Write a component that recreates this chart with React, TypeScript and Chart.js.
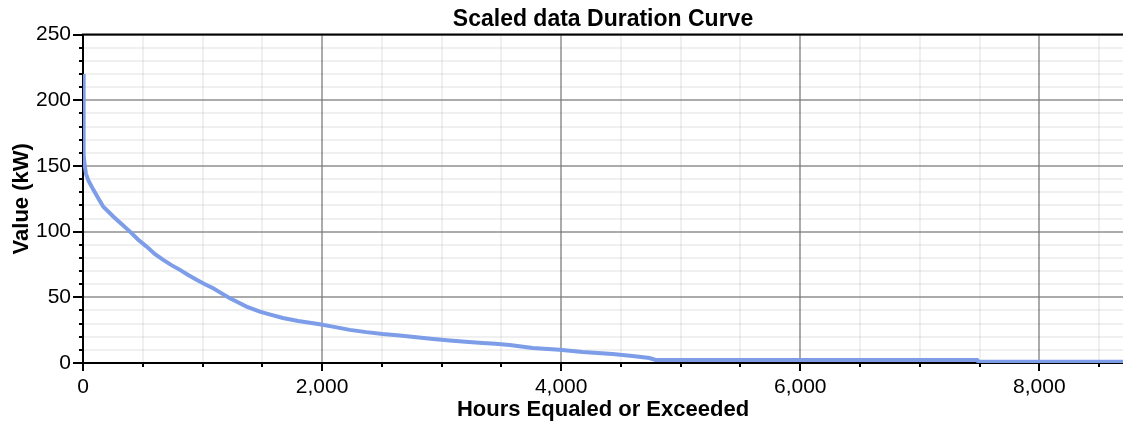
import React, { useEffect, useRef } from "react";
import { Chart, registerables } from "chart.js";

Chart.register(...registerables);

const chartTitle = "Scaled data Duration Curve";
const xAxisTitle = "Hours Equaled or Exceeded";
const yAxisTitle = "Value (kW)";

// Hours equaled or exceeded
const hours = [
  0, 3, 8, 15, 25, 45, 86, 130, 170, 253, 320, 393, 460, 532, 600, 671, 740, 811,
  880, 950, 1020, 1089, 1160, 1229, 1300, 1368, 1479, 1560, 1672, 1800, 1981, 2100,
  2232, 2370, 2507, 2650, 2789, 2930, 3067, 3200, 3343, 3450, 3569, 3761, 3987, 4179,
  4430, 4597, 4739, 4790, 7480, 7490, 8700,
];
// Value (kW)
const values = [
  220, 166, 158, 150, 144, 139, 132, 125, 119, 111.5, 106, 100, 94, 88.6, 83, 78.5,
  74.5, 70.9, 67, 63.3, 60, 56.9, 53, 49.3, 46, 42.9, 39.1, 37, 34.3, 32, 29.5, 27.5,
  25.2, 23.5, 22.1, 21, 19.6, 18.2, 17.1, 16.2, 15.3, 14.6, 13.7, 11.5, 10, 8.3, 6.8,
  5.4, 3.8, 2.3, 2.3, 0.9, 0.9,
];

const xMin = 0;
const xMax = 8700;
const xTickValues = [0, 500, 1000, 1500, 2000, 2500, 3000, 3500, 4000, 4500, 5000, 5500, 6000, 6500, 7000, 7500, 8000, 8500];
const xMajorStep = 2000;
const yMin = 0;
const yMax = 250;
const yTickValues = [0, 10, 20, 30, 40, 50, 60, 70, 80, 90, 100, 110, 120, 130, 140, 150, 160, 170, 180, 190, 200, 210, 220, 230, 240, 250];
const yMajorStep = 50;

const FONT = "'Liberation Sans', Arial, sans-serif";
const MAJOR_GRID = "rgba(120,120,120,0.62)";
const MINOR_GRID = "rgba(0,0,0,0.06)";

const tickMarksPlugin = {
  id: "tickMarks",
  afterDraw(chart: any) {
    const { ctx, chartArea, scales } = chart;
    const xs = scales.x;
    const ys = scales.y;
    ctx.save();
    ctx.strokeStyle = "#000";
    ctx.lineWidth = 2;
    ctx.beginPath();
    ctx.moveTo(chartArea.left - 1, chartArea.top);
    ctx.lineTo(chartArea.right, chartArea.top);
    ctx.stroke();
    for (const v of yTickValues) {
      const py = Math.round(ys.getPixelForValue(v));
      const len = v % yMajorStep === 0 ? 10 : 4;
      ctx.beginPath();
      ctx.moveTo(chartArea.left, py);
      ctx.lineTo(chartArea.left - len, py);
      ctx.stroke();
    }
    for (const v of xTickValues) {
      const px = Math.round(xs.getPixelForValue(v));
      const len = v % xMajorStep === 0 ? 8 : 4;
      ctx.beginPath();
      ctx.moveTo(px, chartArea.bottom);
      ctx.lineTo(px, chartArea.bottom + len);
      ctx.stroke();
    }
    ctx.restore();
  },
};

export default function App() {
  const canvasRef = useRef<HTMLCanvasElement | null>(null);

  useEffect(() => {
    if (!canvasRef.current) return;
    const points = hours.map((h, i) => ({ x: h, y: values[i] }));
    const chart = new Chart(canvasRef.current, {
      type: "line",
      data: {
        datasets: [
          {
            data: points,
            borderColor: "#7D9DE8",
            borderWidth: 4,
            pointRadius: 0,
            tension: 0,
            fill: false,
          },
        ],
      },
      options: {
        animation: false,
        responsive: true,
        maintainAspectRatio: false,
        layout: { padding: 0 },
        plugins: {
          legend: { display: false },
          tooltip: { enabled: false },
          title: {
            display: true,
            text: chartTitle,
            fullSize: false,
            color: "#000",
            font: { family: FONT, size: 23, weight: "bold", lineHeight: 1.2 },
            padding: { top: 6, bottom: 1 },
          },
        },
        scales: {
          x: {
            type: "linear",
            min: xMin,
            max: xMax,
            afterBuildTicks: (scale: any) => {
              scale.ticks = xTickValues.map((v) => ({ value: v }));
            },
            afterFit: (scale: any) => {
              scale.height = 60;
            },
            ticks: {
              autoSkip: false,
              maxRotation: 0,
              padding: 12,
              color: "#000",
              font: { family: FONT, size: 21 },
              callback: (v: any) => (Number(v) % xMajorStep === 0 ? Number(v).toLocaleString("en-US") : ""),
            },
            grid: {
              drawTicks: false,
              color: (c: any) => (c.tick && c.tick.value % xMajorStep === 0 ? MAJOR_GRID : MINOR_GRID),
              lineWidth: 2,
            },
            border: { display: true, color: "#000", width: 2 },
            title: {
              display: true,
              text: xAxisTitle,
              color: "#000",
              font: { family: FONT, size: 22, weight: "bold", lineHeight: 1.2 },
              padding: { top: 0, bottom: 0 },
            },
          },
          y: {
            type: "linear",
            min: yMin,
            max: yMax,
            afterBuildTicks: (scale: any) => {
              scale.ticks = yTickValues.map((v) => ({ value: v }));
            },
            afterFit: (scale: any) => {
              scale.width = 83;
            },
            ticks: {
              autoSkip: false,
              padding: 12,
              color: "#000",
              font: { family: FONT, size: 21 },
              callback: (v: any) => (Number(v) % yMajorStep === 0 ? String(v) : ""),
            },
            grid: {
              drawTicks: false,
              color: (c: any) => (c.tick && c.tick.value % yMajorStep === 0 ? MAJOR_GRID : MINOR_GRID),
              lineWidth: 2,
            },
            border: { display: true, color: "#000", width: 2 },
            title: {
              display: true,
              text: yAxisTitle,
              color: "#000",
              font: { family: FONT, size: 22, weight: "bold", lineHeight: 1.2 },
              padding: { top: 9, bottom: 0 },
            },
          },
        },
      },
      plugins: [tickMarksPlugin],
    });
    return () => chart.destroy();
  }, []);

  return (
    <div style={{ position: "absolute", left: 0, top: 0, width: 1123, height: 423, background: "#fff" }}>
      <canvas ref={canvasRef} />
    </div>
  );
}
